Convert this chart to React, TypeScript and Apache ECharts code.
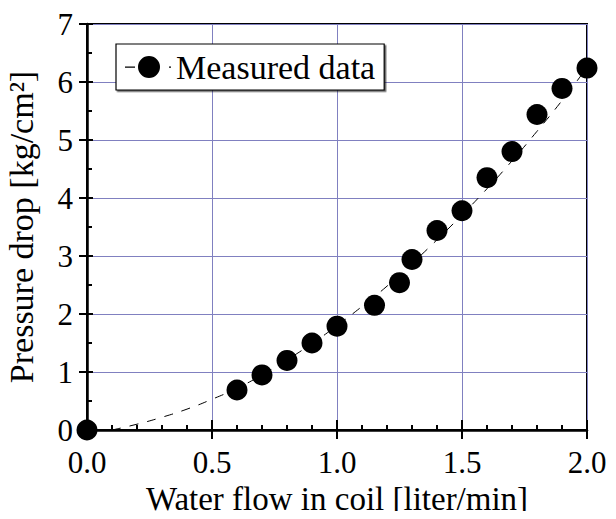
import React, { useEffect, useRef } from "react";
import * as echarts from "echarts";

const flowMeasured = [0, 0.6, 0.7, 0.8, 0.9, 1.0, 1.15, 1.25, 1.3, 1.4, 1.5, 1.6, 1.7, 1.8, 1.9, 2.0];
const dropMeasured = [0, 0.69, 0.95, 1.2, 1.5, 1.79, 2.15, 2.54, 2.94, 3.44, 3.78, 4.35, 4.8, 5.44, 5.89, 6.24];

const flowFit = [0.1, 0.2, 0.3, 0.4, 0.5, 0.6, 0.7, 0.8, 0.9, 1.0, 1.1, 1.2, 1.3, 1.4, 1.5, 1.6, 1.7, 1.8, 1.9, 2.0];
const dropFit = [0, 0.1, 0.22, 0.36, 0.53, 0.72, 0.95, 1.21, 1.49, 1.8, 2.13, 2.48, 2.87, 3.28, 3.71, 4.16, 4.64, 5.15, 5.68, 6.25];

const FONT = "'Liberation Serif', 'Times New Roman', serif";
const GRID_COLOR = "#8080c0";

export default function App() {
  const ref = useRef<HTMLDivElement>(null);
  useEffect(() => {
    if (!ref.current) return;
    const chart = echarts.init(ref.current, null, { renderer: "svg" });
    const grid = { left: 87, top: 24, right: 29, bottom: 89 };
    chart.setOption({
      animation: false,
      backgroundColor: "#ffffff",
      grid: {
        ...grid,
        containLabel: false,
        outerBoundsMode: "none",
        show: true,
        borderColor: "#000",
        borderWidth: 2,
        backgroundColor: "transparent",
      },
      legend: {
        show: true,
        left: 116,
        top: 44,
        data: [{ name: "Measured data", icon: "path://M0,10.5h10v1.2h-10z M13,11a11,11 0 1,0 22,0a11,11 0 1,0 -22,0z M44,10.5h2v1.2h-2z" }],
        itemWidth: 46,
        itemHeight: 22,
        padding: [6, 9, 6, 9],
        borderColor: "#000",
        borderWidth: 1.2,
        backgroundColor: "#fff",
        shadowColor: "rgba(0,0,0,0.6)",
        shadowOffsetX: 1.5,
        shadowOffsetY: 1.5,
        shadowBlur: 0,
        textStyle: { fontFamily: FONT, fontSize: 34, color: "#000", lineHeight: 34 },
        itemStyle: { color: "#000", opacity: 1 },
      },
      xAxis: [
        {
          type: "value",
          min: 0,
          max: 2,
          interval: 0.5,
          name: "Water flow in coil [liter/min]",
          nameLocation: "middle",
          nameGap: 45,
          nameTextStyle: { fontFamily: FONT, fontSize: 33, color: "#000" },
          axisLine: { show: true, lineStyle: { color: "#000", width: 2.5 } },
          axisTick: { show: true, inside: false, length: 9, lineStyle: { color: "#000", width: 2 } },
          axisLabel: {
            fontFamily: FONT,
            fontSize: 31,
            color: "#000",
            margin: 17,
            formatter: (v: number) => v.toFixed(1),
          },
          splitLine: { show: true, lineStyle: { color: GRID_COLOR, width: 1 } },
        },
        {
          type: "value",
          min: 0,
          max: 2,
          interval: 0.5,
          position: "bottom",
          axisLine: { show: false },
          axisTick: { show: true, inside: true, length: 10, lineStyle: { color: "#000", width: 2 } },
          minorTick: { show: true, splitNumber: 5, length: 5, lineStyle: { color: "#000", width: 2 } },
          axisLabel: { show: false },
          splitLine: { show: false },
        },
      ],
      yAxis: [
        {
          type: "value",
          min: 0,
          max: 7,
          interval: 1,
          name: "Pressure drop [kg/cm²]",
          nameLocation: "middle",
          nameGap: 49,
          nameTextStyle: { fontFamily: FONT, fontSize: 34, color: "#000" },
          axisLine: { show: true, lineStyle: { color: "#000", width: 2.5 } },
          axisTick: { show: true, inside: false, length: 8, lineStyle: { color: "#000", width: 2 } },
          axisLabel: { fontFamily: FONT, fontSize: 31, color: "#000", margin: 14 },
          splitLine: { show: true, lineStyle: { color: GRID_COLOR, width: 1 } },
        },
        {
          type: "value",
          min: 0,
          max: 7,
          interval: 1,
          position: "left",
          axisLine: { show: false },
          axisTick: { show: true, inside: true, length: 6, lineStyle: { color: "#000", width: 2 } },
          minorTick: { show: true, splitNumber: 2, length: 5, lineStyle: { color: "#000", width: 2 } },
          axisLabel: { show: false },
          splitLine: { show: false },
        },
      ],
      series: [
        {
          name: "fit",
          type: "line",
          data: flowFit.map((x, i) => [x, dropFit[i]]),
          smooth: true,
          showSymbol: false,
          symbol: "none",
          lineStyle: { color: "#000", width: 1, type: [9, 9] },
          z: 2,
          silent: true,
        },
        {
          name: "Measured data",
          type: "scatter",
          data: flowMeasured.map((x, i) => [x, dropMeasured[i]]),
          symbol: "circle",
          symbolSize: 21,
          itemStyle: { color: "#000", opacity: 1 },
          z: 3,
        },
      ],
    });
    return () => chart.dispose();
  }, []);
  return <div ref={ref} style={{ width: 616, height: 519, margin: -8 }} />;
}
